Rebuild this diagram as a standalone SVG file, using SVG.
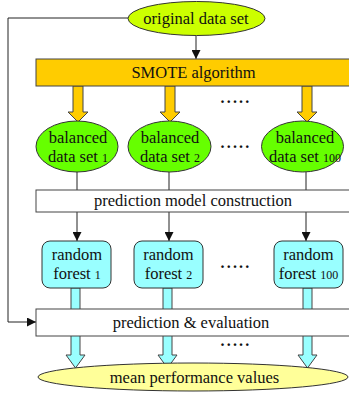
<svg xmlns="http://www.w3.org/2000/svg" width="349" height="394" viewBox="0 0 349 394">
<defs>
<style>
text{font-family:"Liberation Serif","Times New Roman",serif;font-size:16.5px;fill:#111;text-anchor:middle}
.sub{font-size:12px}
.dots{font-size:16px;letter-spacing:2.2px;font-weight:bold}
.ln{stroke:#222;stroke-width:1;fill:none}
.box{fill:#fff;stroke:#444;stroke-width:1}
.oarr{fill:#FFCC00;stroke:#444;stroke-width:1}
.carr{fill:#99FFFF;stroke:#444;stroke-width:1}
.bal{fill:#66FF00;stroke:#333;stroke-width:1}
.rf{fill:#99FFFF;stroke:#333;stroke-width:1}
</style>
<marker id="ah" viewBox="0 0 10 10" refX="10" refY="5" markerWidth="9" markerHeight="9" markerUnits="userSpaceOnUse" orient="auto">
<path d="M0,0 L10,5 L0,10 z" fill="#111"/>
</marker>
</defs>

<g id="connectors">
<line class="ln" x1="196" y1="36" x2="196" y2="59" marker-end="url(#ah)"/>
<polyline class="ln" points="128,18 8,18 8,322 36,322" marker-end="url(#ah)"/>
<polygon class="oarr" points="73,86 83,86 83,112 88,112 78,122 68,112 73,112"/>
<polygon class="oarr" points="165,86 175,86 175,112 180,112 170,122 160,112 165,112"/>
<polygon class="oarr" points="302,86 312,86 312,112 317,112 307,122 297,112 302,112"/>
<line class="ln" x1="77" y1="172" x2="77" y2="190"/>
<line class="ln" x1="169" y1="172" x2="169" y2="190"/>
<line class="ln" x1="306" y1="172" x2="306" y2="190"/>
<line class="ln" x1="77" y1="212" x2="77" y2="241" marker-end="url(#ah)"/>
<line class="ln" x1="169" y1="212" x2="169" y2="241" marker-end="url(#ah)"/>
<line class="ln" x1="306" y1="212" x2="306" y2="241" marker-end="url(#ah)"/>
<polygon class="carr" points="71,288 80,288 80,355 85,355 75.5,368 66,355 71,355"/>
<polygon class="carr" points="163,288 172,288 172,355 177,355 167.5,368 158,355 163,355"/>
<polygon class="carr" points="303,288 312,288 312,355 317,355 307.5,368 298,355 303,355"/>
</g>

<g id="original">
<ellipse cx="196.5" cy="18.5" rx="68.5" ry="17" fill="#CCFF00" stroke="#333"/>
<text x="196" y="24">original data set</text>
</g>

<g id="smote">
<rect x="36" y="59" width="330" height="27" fill="#FFCC00" stroke="#444"/>
<text x="193.5" y="78">SMOTE algorithm</text>
</g>

<text class="dots" x="236" y="103">.....</text>

<g id="bal1">
<ellipse class="bal" cx="77" cy="146.5" rx="41" ry="25.5"/>
<text x="78" y="143">balanced</text>
<text x="78" y="162">data set <tspan class="sub">1</tspan></text>
</g>
<g id="bal2">
<ellipse class="bal" cx="169.5" cy="146.5" rx="41.5" ry="25.5"/>
<text x="170" y="143">balanced</text>
<text x="170" y="162">data set <tspan class="sub">2</tspan></text>
</g>
<text class="dots" x="236" y="148">.....</text>
<g id="bal100">
<ellipse class="bal" cx="302.5" cy="146.5" rx="41" ry="25.5"/>
<text x="305" y="143">balanced</text>
<text x="305" y="162">data set <tspan class="sub">100</tspan></text>
</g>

<g id="construction">
<rect class="box" x="36" y="190" width="330" height="22"/>
<text x="193" y="206">prediction model construction</text>
</g>

<g id="rf1">
<rect class="rf" x="42" y="241" width="69" height="47" rx="8"/>
<text x="77" y="260">random</text>
<text x="77" y="279">forest <tspan class="sub">1</tspan></text>
</g>
<g id="rf2">
<rect class="rf" x="134" y="241" width="69" height="47" rx="8"/>
<text x="168.5" y="260">random</text>
<text x="168.5" y="279">forest <tspan class="sub">2</tspan></text>
</g>
<text class="dots" x="236" y="268">.....</text>
<g id="rf100">
<rect class="rf" x="274" y="241" width="69" height="47" rx="8"/>
<text x="308.5" y="260">random</text>
<text x="308.5" y="279">forest <tspan class="sub">100</tspan></text>
</g>

<g id="evaluation">
<rect class="box" x="36" y="309" width="330" height="27"/>
<text x="191" y="328">prediction &amp; evaluation</text>
</g>

<text class="dots" x="236" y="346">.....</text>

<g id="mean">
<ellipse cx="193" cy="377" rx="155" ry="14" fill="#FFFF99" stroke="#333"/>
<text x="194.5" y="383">mean performance values</text>
</g>
</svg>
